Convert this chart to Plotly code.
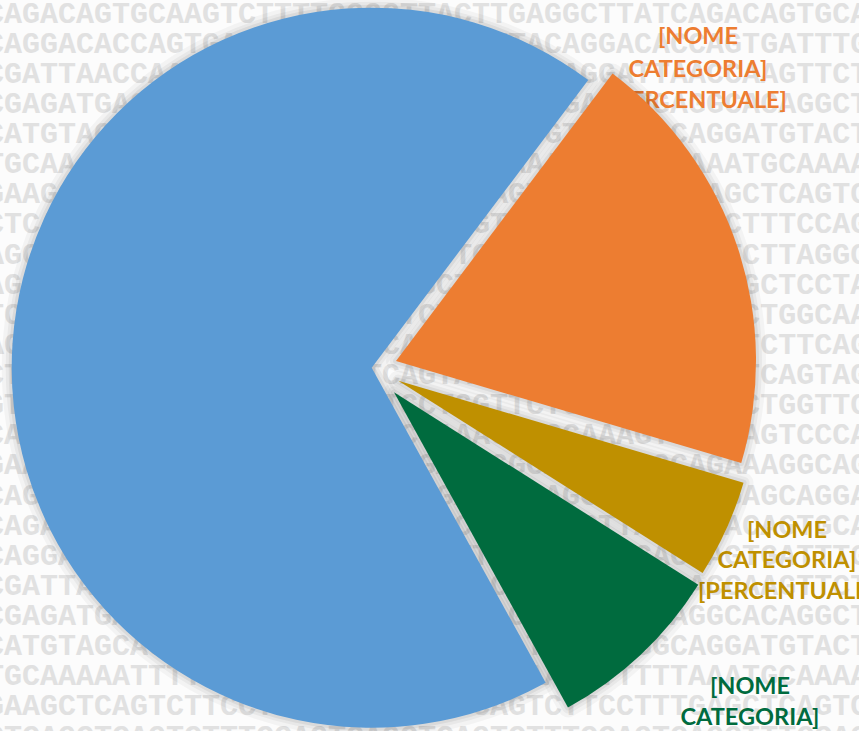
import plotly.graph_objects as go

# ---------------- data ----------------
categories = ["Categoria A", "Categoria B", "Categoria C", "Categoria D"]
values = [68.3, 19.3, 4.4, 8.0]
label_lines = ["[NOME", "CATEGORIA]", "[PERCENTUALE]"]
labelled_slices = [1, 2, 3]

bg_rows = [
    "CAGACAGTGCAAGTCTTTTGGGGTTACTTGAGGCTTATCAGACAGTGCAAGTC",
    "CAGGACACCAGTGATTTGGCTCAGGCTTTTACAGGACACCAGTGATTTGGC",
    "CGATTAACCAAGTTCTCCAGGATTCAGGCTTAAGGATTAACCAAGTTCTCC",
    "CGAGATGAGGCACAGGCTCAGGATTCTTAGGCGAGATGAGGCACAGGCTCA",
    "CATGTAGCAGGATGTACTGGTTTCATGGCATGTACTGGCAGGATGTACTGG",
    "TGCAAAAATTTTTTAAATGCAAAAATGCAAAAATTTTTTAAATGCAAAAAT",
    "GAAGCTCAGTCTTCCTTTGGGGGAGCTCAGTCTTCCTTTGAGCTCAGTCTT",
    "CTCAGCTCAGTCTTTCCAGTCAGCTCAGTCTTTCCAGTCAGCTTTCCAGGA",
    "AGGCATTCTTAGGCATTCTTAGGCATTCTTAGGCATTCTTCTCTTAGGCAT",
    "AGAGGCTCCTAGAGGCTCCTAGAGGCTCCTAGAGGCTCCTAGGCTCCTAGA",
    "TCAATTCTGGCAATTCTGGCAATTCTGGCAATTCTGGCAATTCTGGCAATT",
    "AGCATTCTTCAGCATTCTTCAGCATTCTTCAGCATTCTTCATTCTTCAGCA",
    "CTAGCTCAGTAGCTCAGTAGCTCAGTAGCTCAGTAGCTCAGCTCAGTAGCT",
    "GTTCTCCTGGTTCTCCTGGTTCTCCTGGTTCTCCTGGTTCTCCTGGTTCTC",
    "CAAAGTCCCAAAGTCCCAAAGTCCCAAAGTCCCAAAGTCCCAAGTCCCAAA",
    "GAAAGGCAGAAAGGCAGAAAGGCAGAAAGGCAGAAAGGCAGAAAGGCAGAA",
    "CAGGAGATGAGCAGGAGATGAGCAGGAGATGAGCAGGAGATGAGCAGGAGA",
]

# ---------------- style / layout ----------------
W, H = 859, 760
R = 360
ROTATION = 151.1
slice_colors = ["#5B9BD5", "#ED7D31", "#BF9000", "#006B3E"]
apex = [(371.7, 367.7), (396.0, 361.0), (398.3, 380.7), (394.0, 392.3)]
label_pos = {1: (698, [38, 71, 102]), 2: (787, [532, 562, 593]), 3: (750, [688, 719, 750])}
BG_ROW_Y0, BG_ROW_DY, BG_NROWS = 15, 30.13, 25
shadow_layers = [(20, 0.035), (12, 0.045), (6, 0.06)]

fig = go.Figure()

# background DNA text (below everything)
xs, ys, ts = [], [], []
for k in range(BG_NROWS):
    xs.append(-14)
    ys.append(BG_ROW_Y0 + k * BG_ROW_DY)
    ts.append(bg_rows[k % len(bg_rows)])
fig.add_trace(go.Scatter(
    x=xs, y=ys, text=ts, mode="text", textposition="middle right",
    textfont=dict(family="Liberation Mono", size=30, color="#e1e1e1", weight="bold"),
    hoverinfo="skip", showlegend=False))

# labels (below the pie, as in the reference)
for i in labelled_slices:
    cx, ylist = label_pos[i]
    fig.add_trace(go.Scatter(
        x=[cx] * len(label_lines), y=ylist, text=["<b>%s</b>" % t for t in label_lines],
        mode="text", textposition="middle center",
        textfont=dict(family="Lato", size=23.5, color=slice_colors[i]),
        hoverinfo="skip", showlegend=False))


def dom(i):
    cx, cy = apex[i]
    x0, x1 = (cx - R) / W, (cx + R) / W
    y0, y1 = 1 - (cy + R) / H, 1 - (cy - R) / H
    return dict(x=[max(0, x0), min(1, x1)], y=[max(0, y0), min(1, y1)])


transparent = "rgba(0,0,0,0)"
# soft shadows
for w, a in shadow_layers:
    for i in range(len(values)):
        fig.add_trace(go.Pie(
            labels=categories, values=values, sort=False, direction="clockwise",
            rotation=ROTATION, textinfo="none", hoverinfo="skip", showlegend=False,
            domain=dom(i),
            marker=dict(colors=[transparent] * len(values),
                        line=dict(color=["rgba(0,0,0,%g)" % a] * len(values),
                                  width=[w if j == i else 0 for j in range(len(values))]))))

# slices
for i in range(len(values)):
    fig.add_trace(go.Pie(
        labels=categories, values=values, sort=False, direction="clockwise",
        rotation=ROTATION, textinfo="none", hoverinfo="skip", showlegend=False,
        domain=dom(i),
        marker=dict(colors=[slice_colors[j] if j == i else transparent for j in range(len(values))],
                    line=dict(width=0))))

fig.update_layout(
    width=W, height=H, margin=dict(l=0, r=0, t=0, b=0),
    paper_bgcolor="#fcfcfc", plot_bgcolor="#fcfcfc",
    xaxis=dict(range=[0, W], visible=False, fixedrange=True),
    yaxis=dict(range=[H, 0], visible=False, fixedrange=True),
    showlegend=False,
)

fig.write_html("out.html", config={"displayModeBar": False},
               post_script="document.documentElement.style.overflow='hidden';"
                           "document.body.style.overflow='hidden';document.body.style.margin='0';")
